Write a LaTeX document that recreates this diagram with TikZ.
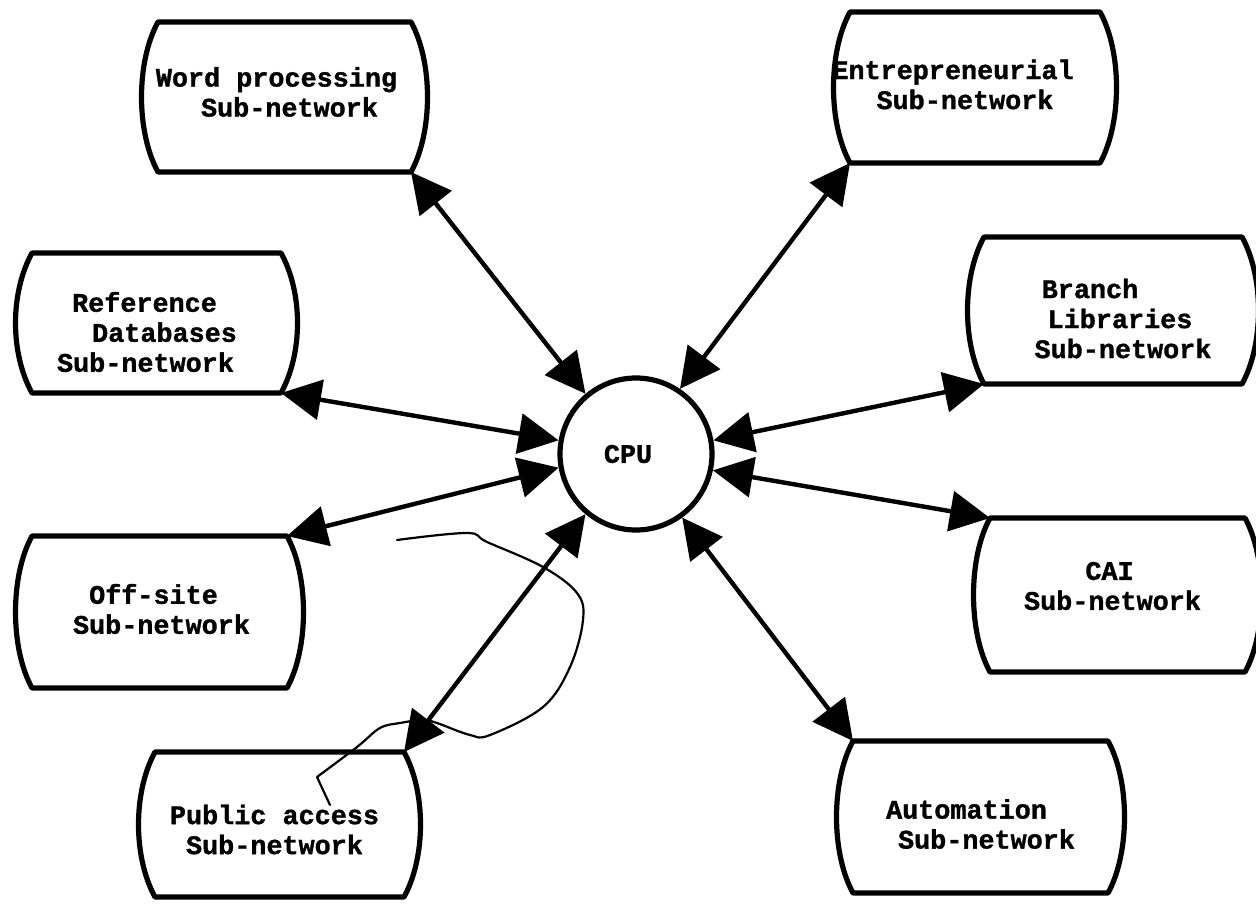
\documentclass[tikz,border=0pt]{standalone}
\usepackage{fontspec}
\newfontfamily\tw{Liberation Mono}[BoldFeatures={FakeBold=1.2}]
\usetikzlibrary{arrows.meta,calc}
\begin{document}
\begin{tikzpicture}[x=0.5pt,y=-0.5pt,
  subbox/.style={draw=none, inner sep=0pt, outer sep=0pt, rectangle},
  subtext/.style={inner sep=0pt, align=center, font=\tw\bfseries\fontsize{13.4}{15}\selectfont},
  boxline/.style={line width=2.6pt, line join=round},
  link/.style={line width=2.2pt, {Triangle[length=20pt,width=20pt]}-{Triangle[length=20pt,width=20pt]}},
  scrib/.style={line width=1.1pt, line cap=round, line join=round}]
\useasboundingbox (0,0) rectangle (1256,904);
\fill[white] (0,0) rectangle (1256,904);

% boxes
\node[subbox, minimum width=126.5pt, minimum height=75pt] (wp) at (284.5,97) {};
\node[subbox, minimum width=125pt, minimum height=75.5pt] (en) at (975,87.5) {};
\node[subbox, minimum width=124.5pt, minimum height=70pt] (rf) at (156.5,323) {};
\node[subbox, minimum width=129pt, minimum height=73.5pt] (br) at (1113,310.5) {};
\node[subbox, minimum width=127.5pt, minimum height=76pt] (of) at (159.5,612) {};
\node[subbox, minimum width=127.5pt, minimum height=77pt] (cai) at (1117.5,595) {};
\node[subbox, minimum width=124.5pt, minimum height=72.5pt] (pa) at (279.5,824.5) {};
\node[subbox, minimum width=127.5pt, minimum height=76pt] (au) at (980.5,817) {};

\foreach \n in {wp,en,rf,br,of,cai,pa,au}{
  \draw[boxline] (\n.north west) -- (\n.north east)
    .. controls +(22,40) and +(22,-40) .. (\n.south east)
    -- (\n.south west)
    .. controls +(-22,-40) and +(-22,40) .. (\n.north west) -- cycle;
}

% texts
\node[subtext] (wpT) at ($(wp)+(0,-5)$) {Word processing\hspace*{8pt}\\\hspace*{5pt}Sub-network};
\node[subtext] (enT) at ($(en)+(-10,-3)$) {Entrepreneurial\hspace*{12pt}\\Sub-network\hspace*{0pt}};
\node[subtext] (rfT) at ($(rf)+(-5,9)$) {Reference\hspace*{7pt}\\\hspace*{13pt}Databases\\Sub-network\hspace*{6pt}};
\node[subtext] (brT) at ($(br)+(2,8)$) {Branch\hspace*{25pt}\\\hspace*{5pt}Libraries\\\hspace*{8pt}Sub-network};
\node[subtext] (ofT) at ($(of)+(-2,-3)$) {Off-site\hspace*{4pt}\\\hspace*{4pt}Sub-network};
\node[subtext] (caiT) at ($(cai)+(-5,-9)$) {CAI\hspace*{3pt}\\Sub-network};
\node[subtext] (paT) at ($(pa)+(-5,5)$) {Public access\\Sub-network};
\node[subtext] (auT) at ($(au)+(-4,7)$) {Automation\hspace*{10pt}\\\hspace*{10pt}Sub-network};

% CPU
\node[circle, draw, line width=2.6pt, minimum size=76pt, inner sep=0pt,
  font=\tw\bfseries\fontsize{13.4}{15}\selectfont] (cpu) at (636,454) {CPU\hspace*{8pt}};

% connectors
\draw[link] (wp.south east) -- (cpu.130);
\draw[link] (en.south west) -- (cpu.56);
\draw[link] (rf.south east) -- (cpu.170);
\draw[link] (of.north east) -- (cpu.190);
\draw[link] (br.south west) -- (cpu.10);
\draw[link] (cai.north west) -- (cpu.348);
\draw[link] (pa.north east) -- (cpu.230);
\draw[link] (au.north west) -- (cpu.306);

% hand-drawn scribble
\draw[scrib] plot[smooth, tension=0.6] coordinates {(397,540) (467,533) (487,542) (543,567) (577,593) (583,620) (570,667) (543,707) (490,735) (470,735) (437,723) (423,720) (400,723) (380,728) (357,747) (317,777)} -- (330,805);
\end{tikzpicture}
\end{document}
